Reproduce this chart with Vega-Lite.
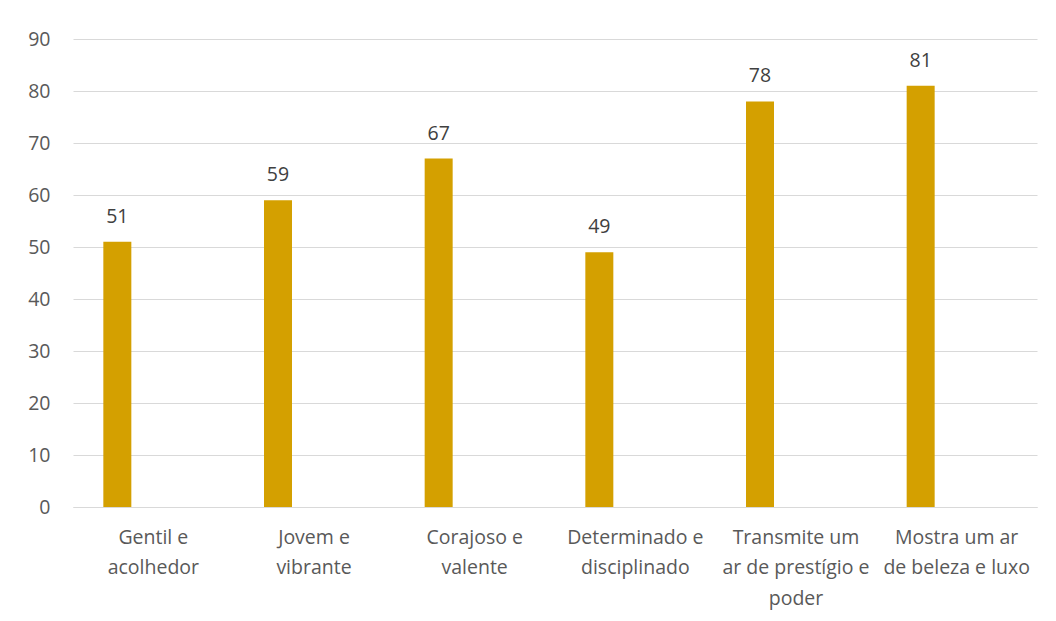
{
  "$schema": "https://vega.github.io/schema/vega-lite/v6.json",
  "autosize": "none",
  "width": 964,
  "height": 468,
  "padding": {"left": 73, "top": 39, "right": 19, "bottom": 114},
  "background": "white",
  "config": {"view": {"stroke": null}, "font": "Open Sans"},
  "data": {"values": [
    {"categoria": "Gentil e|acolhedor", "valor": 51},
    {"categoria": "Jovem e|vibrante", "valor": 59},
    {"categoria": "Corajoso e|valente", "valor": 67},
    {"categoria": "Determinado e|disciplinado", "valor": 49},
    {"categoria": "Transmite um|ar de prestígio e|poder", "valor": 78},
    {"categoria": "Mostra um ar|de beleza e luxo", "valor": 81}
  ]},
  "encoding": {
    "x": {
      "field": "categoria", "type": "nominal", "sort": null,
      "scale": {"paddingInner": 0, "paddingOuter": 0},
      "axis": {
        "title": null, "labelAngle": 0, "labelExpr": "split(datum.label, '|')",
        "labelFont": "Open Sans", "labelFontSize": 19.5, "labelColor": "#595959",
        "labelLineHeight": 30.5, "labelPadding": 21, "labelBaseline": "top",
        "ticks": false, "domain": true, "domainColor": "#D9D9D9", "grid": false,
        "labelLimit": 300
      }
    },
    "y": {
      "field": "valor", "type": "quantitative",
      "scale": {"domain": [0, 90], "nice": false},
      "axis": {
        "title": null, "values": [0,10,20,30,40,50,60,70,80,90],
        "labelFont": "Open Sans", "labelFontSize": 19.5, "labelColor": "#595959",
        "labelPadding": 23, "ticks": false, "domain": false,
        "gridColor": "#D9D9D9", "gridWidth": 1
      }
    }
  },
  "layer": [
    {"mark": {"type": "bar", "width": 28, "xOffset": -36, "color": "#D4A000"}},
    {"mark": {"type": "text", "xOffset": -36, "dy": -19, "baseline": "alphabetic", "font": "Open Sans", "fontSize": 19.5, "color": "#404040"},
     "encoding": {"text": {"field": "valor", "type": "quantitative"}}}
  ]
}
